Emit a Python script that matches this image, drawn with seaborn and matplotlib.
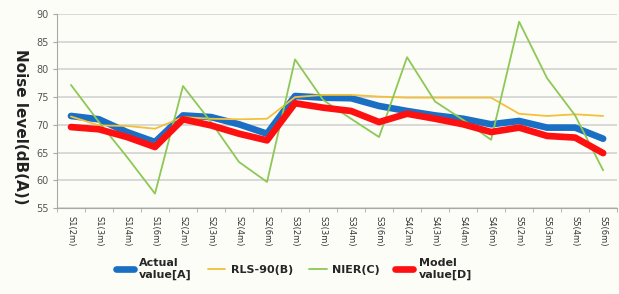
import numpy as np
import pandas as pd
import matplotlib
matplotlib.use("Agg")
import matplotlib.pyplot as plt
import seaborn as sns
from matplotlib.lines import Line2D

sns.set_style("white")
plt.rcParams["font.family"] = ["DejaVu Sans"]

categories = ["S1(2m)", "S1(3m)", "S1(4m)", "S1(6m)",
              "S2(2m)", "S2(3m)", "S2(4m)", "S2(6m)",
              "S3(2m)", "S3(3m)", "S3(4m)", "S3(6m)",
              "S4(2m)", "S4(3m)", "S4(4m)", "S4(6m)",
              "S5(2m)", "S5(3m)", "S5(4m)", "S5(6m)"]
actual = [71.6, 71.0, 68.7, 66.9, 71.7, 71.4, 70.1, 68.4, 75.2, 74.9,
          74.8, 73.4, 72.5, 71.7, 71.1, 70.1, 70.7, 69.5, 69.5, 67.5]
rls90 = [71.5, 69.9, 69.8, 69.3, 71.4, 71.1, 71.0, 71.1, 75.0, 75.4,
         75.4, 75.1, 74.9, 74.9, 74.9, 74.9, 72.0, 71.6, 71.9, 71.6]
nier = [77.2, 70.5, 64.2, 57.6, 77.0, 70.5, 63.3, 59.7, 81.8, 74.5,
        71.1, 67.8, 82.2, 74.2, 70.9, 67.3, 88.6, 78.4, 71.7, 61.8]
model = [69.6, 69.2, 67.8, 66.0, 71.0, 69.9, 68.4, 67.2, 73.9, 73.1,
         72.5, 70.5, 72.0, 71.1, 70.1, 68.7, 69.5, 68.0, 67.7, 64.9]

series = [
    ("Actual\nvalue[A]", actual, "#1a6fc4", 4.8),
    ("RLS-90(B)", rls90, "#f4c03c", 1.3),
    ("NIER(C)", nier, "#8dc856", 1.3),
    ("Model\nvalue[D]", model, "#ff1010", 4.8),
]

fig = plt.figure(figsize=(6.19, 2.94), dpi=100)
fig.patch.set_facecolor("#fdfdf8")
ax = fig.add_axes([0.092, 0.2925, 0.905, 0.66])
ax.set_facecolor("#fdfdf8")

x = np.arange(len(categories))
for name, vals, color, lw in series:
    df = pd.DataFrame({"x": x, "y": vals})
    sns.lineplot(data=df, x="x", y="y", ax=ax, color=color, linewidth=lw,
                 solid_capstyle="round", solid_joinstyle="round", legend=False)

ax.set_xlim(-0.5, len(categories) - 0.5)
ax.set_ylim(55, 90)
ax.set_yticks(range(55, 91, 5))
ax.yaxis.grid(True, color="#cfcfcf", linewidth=1.1)
ax.set_axisbelow(True)
for s in ["top", "right"]:
    ax.spines[s].set_visible(False)
for s in ["left", "bottom"]:
    ax.spines[s].set_color("#a8a8a8")
ax.tick_params(axis="y", left=True, length=3, color="#a8a8a8",
               labelsize=7, labelcolor="#555555", pad=3)

ax.set_xticks(x)
ax.set_xticklabels(categories, rotation=-90, fontsize=6, color="#333333")
ax.set_xticks(np.arange(-0.5, len(categories), 1), minor=True)
ax.tick_params(axis="x", which="major", bottom=False, length=0, pad=6)
ax.tick_params(axis="x", which="minor", bottom=True, length=3, color="#a8a8a8")
ax.set_xlabel("")
ax.set_ylabel("Noise level(dB(A))", rotation=-90, fontsize=11,
              fontweight="bold", color="#222222")
ax.yaxis.set_label_coords(-0.078, 0.42)

handles = [Line2D([0], [0], color=c, linewidth=lw, solid_capstyle="round")
           for _, _, c, lw in series]
labels = [n for n, _, _, _ in series]
fig.legend(handles, labels, loc="center", bbox_to_anchor=(0.475, 0.085),
           ncol=4, frameon=False, handlelength=1.6,
           columnspacing=1.4, handletextpad=0.5,
           prop={"weight": "bold", "size": 8})

fig.savefig("out.png", dpi=100, facecolor=fig.get_facecolor())
